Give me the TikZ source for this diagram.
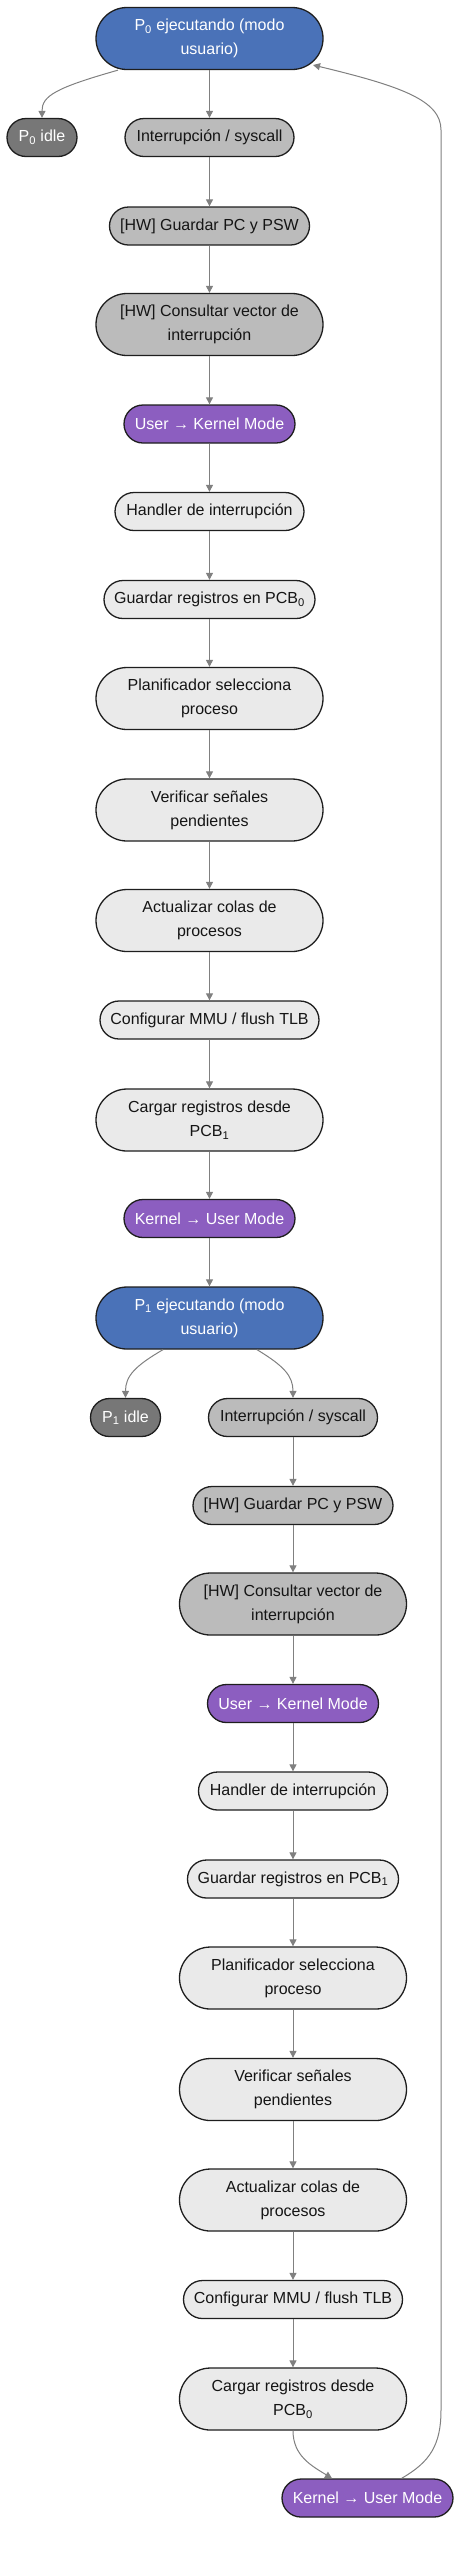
\documentclass[tikz,border=0pt]{standalone}
\usepackage{fontspec}
\setmainfont{Liberation Sans}
\usetikzlibrary{arrows.meta,calc}
\definecolor{cblue}{HTML}{4A72B8}
\definecolor{cpurple}{HTML}{8C5EC0}
\definecolor{cdark}{HTML}{777777}
\definecolor{cmid}{HTML}{BBBBBB}
\definecolor{clight}{HTML}{EAEAEA}
\definecolor{cborder}{HTML}{1E1E1E}
\definecolor{cedge}{HTML}{808080}
\definecolor{ctext}{HTML}{151515}
\tikzset{
  base/.style={draw=cborder, line width=1.3pt, align=center, inner sep=0pt,
    font=\fontsize{16pt}{24pt}\selectfont},
  one/.style={base, minimum width=#1, minimum height=38pt, rounded corners=19pt},
  two/.style={base, minimum width=#1, minimum height=62pt, rounded corners=31pt},
  fblue/.style={fill=cblue, text=white},
  fpurple/.style={fill=cpurple, text=white},
  fdark/.style={fill=cdark, text=white},
  fmid/.style={fill=cmid, text=ctext},
  flight/.style={fill=clight, text=ctext},
  edge/.style={draw=cedge, line width=1pt, -{Triangle[length=7pt,width=7pt]}},
}
\begin{document}
\begin{tikzpicture}[x=1pt,y=-1pt]
\useasboundingbox (0,0) rectangle (469,2568);
% column 1
\node[two=227pt, fblue] (n0) at (209.5,38.5) {P\textsubscript{0} ejecutando (modo\\usuario)};
\node[one=70pt, fdark] (i0) at (42,137.5) {P\textsubscript{0} idle};
\node[one=169pt, fmid] (a1) at (209.5,137.5) {Interrupción / syscall};
\node[one=200pt, fmid] (a2) at (209.5,226) {[HW] Guardar PC y PSW};
\node[two=227pt, fmid] (a3) at (209.5,324.5) {[HW] Consultar vector de\\interrupción};
\node[one=171pt, fpurple] (a4) at (209.5,424) {User → Kernel Mode};
\node[one=189pt, flight] (a5) at (209.5,511.5) {Handler de interrupción};
\node[one=211pt, flight] (a6) at (209.5,599.5) {Guardar registros en PCB\textsubscript{0}};
\node[two=227pt, flight] (a7) at (209.5,698.5) {Planificador selecciona\\proceso};
\node[two=227pt, flight] (a8) at (209.5,810) {Verificar señales\\pendientes};
\node[two=227pt, flight] (a9) at (209.5,920.5) {Actualizar colas de\\procesos};
\node[one=219pt, flight] (a10) at (209.5,1020) {Configurar MMU / flush TLB};
\node[two=227pt, flight] (a11) at (209.5,1120) {Cargar registros desde\\PCB\textsubscript{1}};
\node[one=171pt, fpurple] (a12) at (209.5,1218.5) {Kernel → User Mode};
% column 2
\node[two=227pt, fblue] (n1) at (209.5,1318) {P\textsubscript{1} ejecutando (modo\\usuario)};
\node[one=70pt, fdark] (i1) at (125.5,1417.5) {P\textsubscript{1} idle};
\node[one=169pt, fmid] (b1) at (293,1417.5) {Interrupción / syscall};
\node[one=200pt, fmid] (b2) at (293,1505.5) {[HW] Guardar PC y PSW};
\node[two=227pt, fmid] (b3) at (293,1604) {[HW] Consultar vector de\\interrupción};
\node[one=171pt, fpurple] (b4) at (293,1703.5) {User → Kernel Mode};
\node[one=189pt, flight] (b5) at (293,1791) {Handler de interrupción};
\node[one=211pt, flight] (b6) at (293,1879) {Guardar registros en PCB\textsubscript{1}};
\node[two=227pt, flight] (b7) at (293,1978) {Planificador selecciona\\proceso};
\node[two=227pt, flight] (b8) at (293,2089.5) {Verificar señales\\pendientes};
\node[two=227pt, flight] (b9) at (293,2200) {Actualizar colas de\\procesos};
\node[one=219pt, flight] (b10) at (293,2299.5) {Configurar MMU / flush TLB};
\node[two=227pt, flight] (b11) at (293,2399) {Cargar registros desde\\PCB\textsubscript{0}};
\node[one=171pt, fpurple] (b12) at (367.5,2498) {Kernel → User Mode};
% connectors
\draw[edge] ([xshift=-91.5pt]n0.south) .. controls (55,88) and (42,96) .. (i0.north);
\draw[edge] (n0) -- (a1);
\draw[edge] (a1) -- (a2);
\draw[edge] (a2) -- (a3);
\draw[edge] (a3) -- (a4);
\draw[edge] (a4) -- (a5);
\draw[edge] (a5) -- (a6);
\draw[edge] (a6) -- (a7);
\draw[edge] (a7) -- (a8);
\draw[edge] (a8) -- (a9);
\draw[edge] (a9) -- (a10);
\draw[edge] (a10) -- (a11);
\draw[edge] (a11) -- (a12);
\draw[edge] (a12) -- (n1);
\draw[edge] ([xshift=-46.5pt]n1.south) .. controls (135,1366) and (125.5,1376) .. (i1.north);
\draw[edge] ([xshift=47.5pt]n1.south) .. controls (284,1366) and (293,1376) .. (b1.north);
\draw[edge] (b1) -- (b2);
\draw[edge] (b2) -- (b3);
\draw[edge] (b3) -- (b4);
\draw[edge] (b4) -- (b5);
\draw[edge] (b5) -- (b6);
\draw[edge] (b6) -- (b7);
\draw[edge] (b7) -- (b8);
\draw[edge] (b8) -- (b9);
\draw[edge] (b9) -- (b10);
\draw[edge] (b10) -- (b11);
\draw[edge] (b11.south) .. controls (293,2456) and (312,2466) .. ([xshift=-35.5pt]b12.north);
\draw[edge] ([xshift=34pt]b12.north) .. controls (430,2462) and (441,2445) .. (441,2410)
  -- (441,130) .. controls (441,100) and (400,86) .. ([xshift=103.5pt,yshift=-26.5pt]n0.center);
\end{tikzpicture}
\end{document}
